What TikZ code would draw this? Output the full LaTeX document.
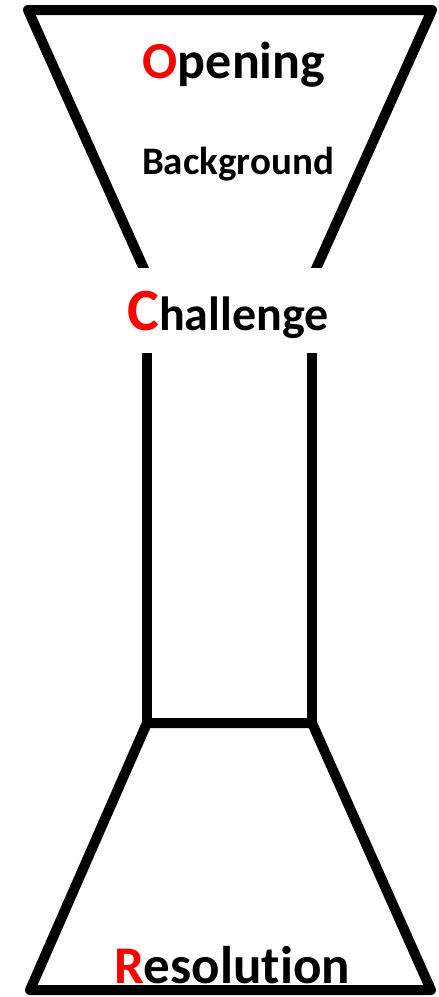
\documentclass[tikz,border=0pt]{standalone}
\usepackage{fontspec}
\setmainfont{Carlito}[Ligatures={NoCommon}]

\tikzset{
    wall/.style={line width=10pt, line join=round},
    word/.style={inner sep=0pt, anchor=base, font=\bfseries},
}
% initial letter in red
\newcommand{\firstletter}[1]{\textcolor{red}{#1}}

\begin{document}
\begin{tikzpicture}[x=1pt, y=-1pt]
    % Parameters
    \def\topy{10}    % top edge of the funnel
    \def\necky{267}  % where the funnel stops
    \def\stemy{353}  % top of the stem
    \def\basey{723}  % bottom of the stem
    \def\floory{990} % bottom edge

    \useasboundingbox (0,0) rectangle (439,997);

    % Named corners
    \coordinate (funnelTL) at (28,\topy);
    \coordinate (funnelTR) at (432,\topy);
    \coordinate (funnelBL) at (149,280);
    \coordinate (funnelBR) at (311,280);
    \coordinate (stemTL) at (147,\stemy);
    \coordinate (stemTR) at (312,\stemy);
    \coordinate (stemBL) at (147,\basey);
    \coordinate (stemBR) at (312,\basey);
    \coordinate (flaskBL) at (30,\floory);
    \coordinate (flaskBR) at (431,\floory);

    % Funnel, cut flat at the neck
    \begin{scope}
        \clip (0,0) rectangle (439,\necky);
        \draw[wall] (funnelBL) -- (funnelTL) -- (funnelTR) -- (funnelBR);
    \end{scope}

    % Stem
    \foreach \side in {L,R} {
            \draw[wall] (stemT\side) -- (stemB\side);
        }

    % Flask
    \draw[wall] (stemBL) -- (stemBR) -- (flaskBR) -- (flaskBL) -- cycle;

    % Labels
    \node[word, font=\bfseries\fontsize{52}{60}\selectfont] (opening) at (234,78) {\firstletter{O}pening};
    \node[word, font=\bfseries\fontsize{39}{46}\selectfont] (background) at (238,174) {Background};
    \node[word, font=\bfseries\fontsize{48}{56}\selectfont] (challenge) at (228,330) {{\fontsize{60}{68}\selectfont\firstletter{C}}hallenge};
    \node[word, font=\bfseries\fontsize{53}{60}\selectfont] (resolution) at (232,983) {\firstletter{R}esolution};
\end{tikzpicture}
\end{document}
